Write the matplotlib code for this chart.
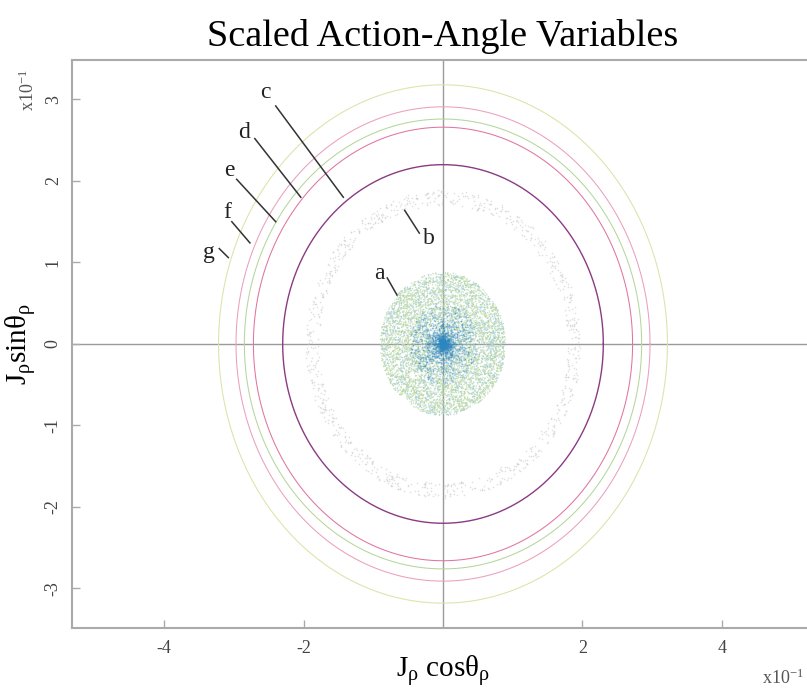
import matplotlib
matplotlib.use("Agg")
import matplotlib.pyplot as plt
import numpy as np

plt.rcParams['font.family'] = ['Liberation Serif', 'DejaVu Serif']
plt.rcParams['mathtext.fontset'] = 'stix'
plt.rcParams['mathtext.default'] = 'regular'

# invariant curves c..g, semi-axes in units of 1e-1
curve_names = ['c', 'd', 'e', 'f', 'g']
curve_rx = [2.30, 2.72, 2.85, 2.97, 3.22]
curve_ry = [2.20, 2.66, 2.76, 2.91, 3.18]
curve_colors = ['#8a3b82', '#e0759f', '#b5d69c', '#eaa0be', '#d6e6a8']

# chaotic core (a) and broken torus (b)
core_rx, core_ry = 0.90, 0.88
core_count = 6500
centre_count = 2200
ring_rx, ring_ry = 1.88, 1.80
ring_width = 0.05
ring_count = 900

# curve labels and their leader lines
label_names = ['a', 'b', 'c', 'd', 'e', 'f', 'g']
label_x = [-0.92, -0.20, -2.55, -2.86, -3.06, -3.10, -3.36]
label_y = [0.86, 1.30, 3.09, 2.60, 2.13, 1.61, 1.12]
lead_from = [(-0.80, 0.81), (-0.55, 1.64), (-2.40, 2.92), (-2.70, 2.52),
             (-2.96, 2.02), (-3.03, 1.50), (-3.21, 1.17)]
lead_to = [(-0.66, 0.60), (-0.34, 1.36), (-1.43, 1.80), (-2.04, 1.80),
           (-2.40, 1.50), (-2.77, 1.24), (-3.08, 1.06)]

xticks = [-4, -2, 2, 4]
yticks = [-3, -2, -1, 0, 1, 2, 3]


def standard_map(n, theta0, p0, kick=7.3):
    # chaotic orbit of the Chirikov standard map, returned on the unit square
    th = np.empty(n)
    p = np.empty(n)
    a, b = theta0, p0
    for i in range(n):
        b = (b + kick * np.sin(a)) % (2 * np.pi)
        a = (a + b) % (2 * np.pi)
        th[i], p[i] = a, b
    return th / (2 * np.pi), p / (2 * np.pi)


fig = plt.figure(figsize=(8.07, 6.96), dpi=100)
ax = fig.add_axes([0.0886, 0.0983, 0.9207, 0.815])
ax.set_xlim(-5.33, 5.33)
ax.set_ylim(-3.48, 3.48)

ax.axhline(0, color='#9a9a9a', lw=1.0, zorder=1)
ax.axvline(0, color='#9a9a9a', lw=1.0, zorder=1)

# outer regular tori
t = np.linspace(0, 2 * np.pi, 800)
for i, (rx, ry, col) in enumerate(zip(curve_rx, curve_ry, curve_colors)):
    ax.plot(rx * np.cos(t), ry * np.sin(t), color=col,
            lw=1.0 if i == 0 else 0.75, zorder=2)

# broken torus b
u, v = standard_map(ring_count, 0.3, 1.1)
th = 2 * np.pi * u
r = 1 + ring_width * (2 * v - 1)
ax.scatter(ring_rx * r * np.cos(th), ring_ry * r * np.sin(th), s=1.3,
           color='#c8c8c8', linewidths=0, alpha=0.55, zorder=2)

# chaotic core a
u, v = standard_map(core_count, 1.7, 0.4)
th = 2 * np.pi * u
r = np.sqrt(v)
idx = np.arange(core_count) % 3
cols = np.array(['#9fcbe0', '#b3d48e', '#c6dfb0'])[idx]
ax.scatter(core_rx * r * np.cos(th), core_ry * r * np.sin(th), s=1.1,
           c=cols, linewidths=0, alpha=0.7, zorder=3)

u, v = standard_map(centre_count, 2.9, 5.2)
th = 2 * np.pi * u
r = 0.55 * v ** 2.0
ax.scatter(core_rx * r * np.cos(th), core_ry * r * np.sin(th), s=1.4,
           color='#2b86c1', linewidths=0, alpha=0.35, zorder=4)

for name, tx, ty, p0, p1 in zip(label_names, label_x, label_y, lead_from, lead_to):
    ax.text(tx, ty, name, fontsize=17, color='#222222', ha='center', va='center')
    ax.plot([p0[0], p1[0]], [p0[1], p1[1]], color='#333333', lw=1.1, zorder=5)

for side in ['left', 'bottom', 'top', 'right']:
    ax.spines[side].set_color('#aaaaaa')
    ax.spines[side].set_linewidth(1.5)

ax.set_xticks(xticks)
ax.set_yticks(yticks)
ax.set_xticklabels([str(v) for v in xticks])
ax.set_yticklabels([str(v) for v in yticks], rotation=90, va='center')
ax.tick_params(direction='in', length=6, width=1, color='#aaaaaa',
               labelsize=13, labelcolor='#444444')
ax.tick_params(axis='x', pad=9)
ax.tick_params(axis='y', pad=7)

ax.set_xlabel(r'J$_\rho$ cos$\theta_\rho$', fontsize=21, labelpad=-2)
ax.set_ylabel(r'J$_\rho$sin$\theta_\rho$', fontsize=21, labelpad=4)
ax.set_title('Scaled Action-Angle Variables', fontsize=27.5, pad=10)

fig.text(0.035, 0.87, r'x10$^{-1}$', rotation=90, fontsize=13,
         color='#555555', ha='center', va='center')
fig.text(0.97, 0.025, r'x10$^{-1}$', fontsize=13, color='#555555',
         ha='center', va='center')

fig.savefig('out.png', dpi=100)
